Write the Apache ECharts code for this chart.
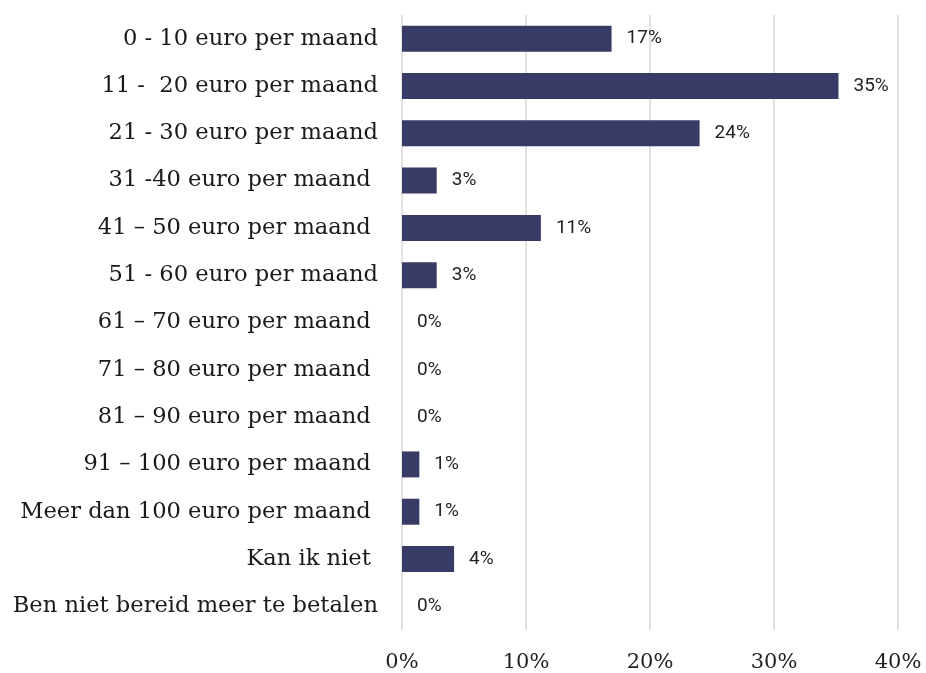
<!DOCTYPE html>
<html>
<head>
<meta charset="utf-8">
<script src="https://cdn.jsdelivr.net/npm/echarts@6/dist/echarts.min.js"></script>
<style>
  html, body { margin: 0; padding: 0; background: #fff; }
  #chart { width: 926px; height: 673px; }
</style>
</head>
<body>
<div id="chart"></div>
<script>
var categories = [
  '0 - 10 euro per maand',
  '11 -  20 euro per maand',
  '21 - 30 euro per maand',
  '31 -40 euro per maand ',
  '41 \u2013 50 euro per maand ',
  '51 - 60 euro per maand',
  '61 \u2013 70 euro per maand ',
  '71 \u2013 80 euro per maand ',
  '81 \u2013 90 euro per maand ',
  '91 \u2013 100 euro per maand ',
  'Meer dan 100 euro per maand ',
  'Kan ik niet ',
  'Ben niet bereid meer te betalen'
];
var values = [16.9, 35.2, 24.0, 2.8, 11.2, 2.8, 0, 0, 0, 1.4, 1.4, 4.2, 0];
var xTicks = [0, 10, 20, 30, 40];

var dom = document.getElementById('chart');
var myChart = echarts.init(dom, null, { renderer: 'canvas' });

var option = {
  animation: false,
  grid: { left: 402, right: 28, top: 15, bottom: 43 },
  xAxis: {
    type: 'value',
    min: xTicks[0],
    max: xTicks[xTicks.length - 1],
    interval: 10,
    axisLine: { show: false },
    axisTick: { show: false },
    splitLine: { show: true, lineStyle: { color: '#d9d9d9', width: 1.5 } },
    axisLabel: {
      color: '#222',
      fontFamily: 'DejaVu Serif',
      fontSize: 21,
      margin: 22,
      formatter: '{value}%'
    }
  },
  yAxis: {
    type: 'category',
    inverse: true,
    data: categories,
    axisLine: { show: false },
    axisTick: { show: false },
    axisLabel: {
      color: '#1a1a1a',
      fontFamily: 'DejaVu Serif',
      fontSize: 22.6,
      margin: 24
    }
  },
  series: [
    {
      type: 'bar',
      data: values,
      barWidth: 26,
      itemStyle: { color: '#383b66' },
      label: {
        show: true,
        position: 'right',
        distance: 15,
        color: '#222',
        fontFamily: 'Roboto',
        fontSize: 19,
        formatter: function (p) { return Math.round(p.value) + '%'; }
      }
    }
  ]
};

myChart.setOption(option);
</script>
</body>
</html>
